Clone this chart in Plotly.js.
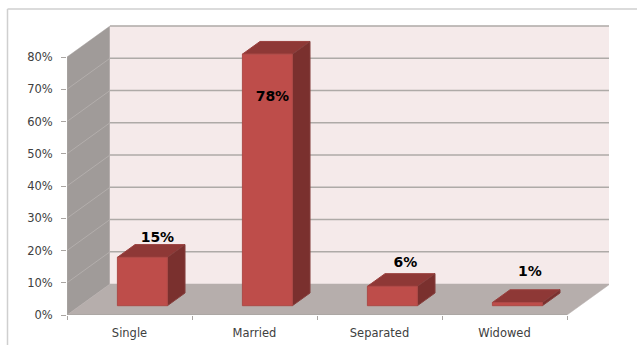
<!DOCTYPE html>
<html>
<head>
<meta charset="utf-8">
<script src="https://cdn.plot.ly/plotly-3.0.1.min.js"></script>
<style>html,body{margin:0;padding:0;background:#fff;overflow:hidden}</style>
</head>
<body>
<div id="chart" style="width:637px;height:345px"></div>
<script>
// Marital status shares
const categories = ['Single', 'Married', 'Separated', 'Widowed'];
const shares = [15, 78, 6, 1];
const percentTicks = [0, 10, 20, 30, 40, 50, 60, 70, 80];
const categoryEdges = [-0.5, 0.5, 1.5, 2.5, 3.5];

// Oblique projection of the 3-D box: depth 0 is the front plane, depth 1 the back wall
const SKEW_X = 0.344;   // category units per unit of depth
const SKEW_Y = 9.61;    // percentage points per unit of depth
const project = (c, v, d) => [c + d * SKEW_X, v + d * SKEW_Y];

const X_LOW = -0.5, X_HIGH = 3.5, Y_TOP = 80;
const BAR_HALF = 0.2, BAR_D0 = 0.3, BAR_D1 = 0.71;

const poly = (pts, fill, edge, width) => ({
  type: 'scatter', mode: 'lines', fill: 'toself', fillcolor: fill,
  x: pts.map(p => p[0]).concat(pts[0][0]),
  y: pts.map(p => p[1]).concat(pts[0][1]),
  line: {color: edge || fill, width: width === undefined ? 0.5 : width},
  hoverinfo: 'skip', showlegend: false
});
const seg = (a, b, color, width) => ({
  type: 'scatter', mode: 'lines',
  x: [a[0], b[0]], y: [a[1], b[1]],
  line: {color: color, width: width},
  hoverinfo: 'skip', showlegend: false
});

const traces = [];

// Left wall, back wall and floor
traces.push(poly([project(X_LOW, 0, 0), project(X_LOW, Y_TOP, 0), project(X_LOW, Y_TOP, 1), project(X_LOW, 0, 1)], '#a09b99'));
traces.push(poly([project(X_LOW, 0, 1), project(X_LOW, Y_TOP, 1), project(X_HIGH, Y_TOP, 1), project(X_HIGH, 0, 1)], '#f5eaea'));
traces.push(poly([project(X_LOW, 0, 0), project(X_LOW, 0, 1), project(X_HIGH, 0, 1), project(X_HIGH, 0, 0)], '#b6aeac'));

// Gridlines run along the back wall and down the left wall
percentTicks.forEach(v => {
  if (v > 0) {
    traces.push(seg(project(X_LOW, v, 1), project(X_HIGH, v, 1), '#aeaaa7', 1.5));
  }
  if (v > 0 && v < Y_TOP) {
    traces.push(seg(project(X_LOW, v, 0), project(X_LOW, v, 1), '#b3aeac', 1));
  }
});

// Front axis lines
traces.push(seg(project(X_LOW, 0, 0), project(X_LOW, Y_TOP, 0), '#a9a5a2', 1.5));
traces.push(seg(project(X_LOW, 0, 0), project(X_HIGH, 0, 0), '#a9a5a2', 1.5));

// Bars: front, top and side faces
shares.forEach((v, c) => {
  const l = c - BAR_HALF, r = c + BAR_HALF;
  traces.push(poly([project(l, v, BAR_D0), project(r, v, BAR_D0), project(r, v, BAR_D1), project(l, v, BAR_D1)], '#8e3836', '#9a3f3d', 1));
  traces.push(poly([project(r, 0, BAR_D0), project(r, v, BAR_D0), project(r, v, BAR_D1), project(r, 0, BAR_D1)], '#7a302e', '#86403e', 1));
  traces.push(poly([project(l, 0, BAR_D0), project(l, v, BAR_D0), project(r, v, BAR_D0), project(r, 0, BAR_D0)], '#be4d4a', '#ad4a47', 1));
});

// Value labels, nudged off their bars by hand: [category units, percentage points]
const labelNudges = [[0.12, 1.9], [0.04, -17.3], [0.104, 3.1], [0.10, 5.3]];
traces.push({
  type: 'scatter', mode: 'text',
  x: shares.map((v, c) => c + BAR_D0 * SKEW_X + labelNudges[c][0]),
  y: shares.map((v, c) => project(c, v, BAR_D1)[1] + labelNudges[c][1]),
  text: shares.map(v => v + '%'),
  textposition: 'middle center',
  textfont: {family: 'DejaVu Sans, sans-serif', size: 14, color: '#000', weight: 700},
  hoverinfo: 'skip', showlegend: false
});

const W = 637, H = 345, ML = 67, MR = 28, MT = 25, MB = 30;
const plotW = W - ML - MR, plotH = H - MT - MB;
const paperX = px => (px - ML) / plotW;
const paperY = py => (H - MB - py) / plotH;
const frameLine = (x0, y0, x1, y1) => ({
  type: 'line', xref: 'paper', yref: 'paper', layer: 'below',
  x0: paperX(x0), y0: paperY(y0), x1: paperX(x1), y1: paperY(y1),
  line: {color: '#cfcfcf', width: 1.5}
});

const layout = {
  width: W, height: H,
  margin: {l: ML, r: MR, t: MT, b: MB, pad: 0},
  paper_bgcolor: '#fff', plot_bgcolor: 'rgba(0,0,0,0)',
  showlegend: false,
  font: {family: 'DejaVu Sans, sans-serif', size: 11, color: '#404040'},
  xaxis: {
    type: 'linear', range: [X_LOW, X_LOW + 542 / 125],
    showgrid: false, zeroline: false, showline: false, fixedrange: true,
    tickmode: 'array', tickvals: categories.map((_, i) => i), ticktext: categories,
    ticks: 'outside', ticklen: 7, tickcolor: 'rgba(0,0,0,0)', tickfont: {size: 11.5, color: '#404040'},
    minor: {tickmode: 'array', tickvals: categoryEdges, ticks: 'outside', ticklen: 4, tickcolor: '#a9a5a2', tickwidth: 1, showgrid: false}
  },
  yaxis: {
    type: 'linear', range: [0, 290 / 3.225],
    showgrid: false, zeroline: false, showline: false, fixedrange: true,
    tickmode: 'array', tickvals: percentTicks, ticktext: percentTicks.map(v => v + '%'),
    ticks: 'outside', ticklen: 5, tickcolor: '#a9a5a2', tickwidth: 1, ticklabelstandoff: 6,
    tickfont: {size: 11.5, color: '#404040'}
  },
  shapes: [frameLine(7.5, 9, 637, 9), frameLine(7.5, 9, 7.5, 345)]
};

Plotly.newPlot('chart', traces, layout, {displayModeBar: false, staticPlot: true});
</script>
</body>
</html>
